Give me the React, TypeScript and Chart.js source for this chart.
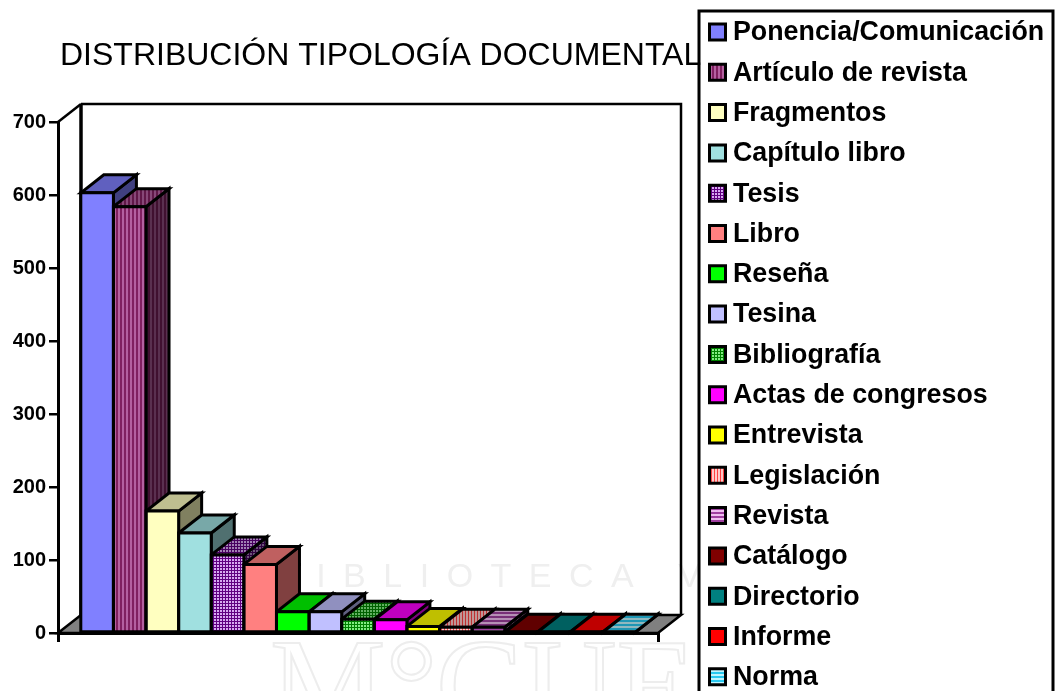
import React, { useEffect, useRef } from "react";
import { Chart, registerables } from "chart.js";

Chart.register(...registerables);

const categories = [
  "Ponencia/Comunicación", "Artículo de revista", "Fragmentos", "Capítulo libro", "Tesis", "Libro",
  "Reseña", "Tesina", "Bibliografía", "Actas de congresos", "Entrevista", "Legislación", "Revista",
  "Catálogo", "Directorio", "Informe", "Norma",
];
const values = [603, 584, 167, 137, 107, 94, 29, 29, 19, 18, 9, 8, 8, 1, 1, 1, 1];
const yTicks = [0, 100, 200, 300, 400, 500, 600, 700];
const titleText = "DISTRIBUCIÓN TIPOLOGÍA DOCUMENTAL";

type Fill = { kind: "solid" | "v" | "h" | "check"; a: number[]; b?: number[]; period?: number };
const fills: Fill[] = [
  { kind: "solid", a: [128, 128, 255] },
  { kind: "v", a: [128, 32, 96], b: [180, 96, 160], period: 4 },
  { kind: "solid", a: [255, 255, 192] },
  { kind: "solid", a: [160, 224, 224] },
  { kind: "check", a: [96, 0, 128], b: [215, 170, 240], period: 3 },
  { kind: "solid", a: [255, 128, 128] },
  { kind: "solid", a: [0, 255, 0] },
  { kind: "solid", a: [192, 192, 255] },
  { kind: "check", a: [0, 128, 0], b: [130, 235, 130], period: 3 },
  { kind: "solid", a: [255, 0, 255] },
  { kind: "solid", a: [255, 255, 0] },
  { kind: "v", a: [255, 64, 64], b: [255, 200, 200], period: 3 },
  { kind: "h", a: [160, 64, 160], b: [240, 190, 240], period: 4 },
  { kind: "solid", a: [128, 0, 0] },
  { kind: "solid", a: [0, 128, 128] },
  { kind: "solid", a: [255, 0, 0] },
  { kind: "h", a: [40, 200, 240], b: [190, 245, 255], period: 4 },
];

const DX = 23;
const DY = 18;
const LINE = 3;
const FONT = '"Liberation Sans", Arial, sans-serif';

function makeFill(ctx: CanvasRenderingContext2D, f: Fill, k: number): string | CanvasPattern {
  const rgb = (c: number[]) => `rgb(${Math.round(c[0] * k)},${Math.round(c[1] * k)},${Math.round(c[2] * k)})`;
  if (f.kind === "solid") return rgb(f.a);
  const p = f.period as number;
  const off = document.createElement("canvas");
  off.width = p;
  off.height = p;
  const c = off.getContext("2d") as CanvasRenderingContext2D;
  c.fillStyle = rgb(f.b as number[]);
  c.fillRect(0, 0, p, p);
  c.fillStyle = rgb(f.a);
  if (f.kind === "v" || f.kind === "check") c.fillRect(0, 0, p === 4 ? 2 : 1, p);
  if (f.kind === "h" || f.kind === "check") c.fillRect(0, 0, p, p === 4 ? 2 : 1);
  return ctx.createPattern(off, "repeat") as CanvasPattern;
}

function poly(ctx: CanvasRenderingContext2D, pts: number[][], fill: any, lw = LINE) {
  ctx.beginPath();
  pts.forEach((p, i) => (i ? ctx.lineTo(p[0], p[1]) : ctx.moveTo(p[0], p[1])));
  ctx.closePath();
  if (fill) {
    ctx.fillStyle = fill;
    ctx.fill();
  }
  ctx.lineWidth = lw;
  ctx.strokeStyle = "#000";
  ctx.lineJoin = "miter";
  ctx.stroke();
}

const sceneryPlugin = {
  id: "scenery",
  beforeDraw(chart: any) {
    const ctx = chart.ctx as CanvasRenderingContext2D;
    ctx.save();
    ctx.fillStyle = "#fff";
    ctx.fillRect(0, 0, chart.width, chart.height);
    // faint watermark behind the chart
    ctx.fillStyle = "#efefef";
    ctx.font = `34px ${FONT}`;
    ctx.textBaseline = "alphabetic";
    (ctx as any).letterSpacing = "17.5px";
    ctx.fillText("BIBLIOTECA VIRTUAL", 276, 587);
    (ctx as any).letterSpacing = "0px";
    ctx.strokeStyle = "#ededed";
    ctx.lineWidth = 2;
    ctx.font = `130px "Liberation Serif", serif`;
    ctx.strokeText("M°", 270, 728);
    ctx.strokeText("CUE", 436, 728);
    ctx.strokeText("D", 815, 728);
    ctx.restore();
  },
  beforeDatasetsDraw(chart: any) {
    const ctx = chart.ctx as CanvasRenderingContext2D;
    const { left, right, top, bottom } = chart.chartArea;
    ctx.save();
    // floor
    poly(ctx, [[left, bottom], [left + DX, bottom - DY], [right + DX, bottom - DY], [right, bottom]], "#808080", 2.5);
    // side wall diagonal and back wall
    ctx.strokeStyle = "#000";
    ctx.lineWidth = 2.5;
    ctx.beginPath();
    ctx.moveTo(left, top);
    ctx.lineTo(left + DX, top - DY);
    ctx.stroke();
    ctx.beginPath();
    ctx.moveTo(left + DX, top - DY);
    ctx.lineTo(right + DX, top - DY);
    ctx.lineTo(right + DX, bottom - DY);
    ctx.stroke();
    ctx.lineWidth = 3.5;
    ctx.beginPath();
    ctx.moveTo(left + DX, top - DY);
    ctx.lineTo(left + DX, bottom - DY);
    ctx.stroke();
    // top and side faces of the bars, left to right, under all the front faces
    chart.data.datasets.forEach((ds: any, i: number) => {
      const bar = chart.getDatasetMeta(i).data[0];
      const l = bar.x - bar.width / 2;
      const r = bar.x + bar.width / 2;
      poly(ctx, [[r, bar.y], [r + DX, bar.y - DY], [r + DX, bar.base - DY], [r, bar.base]], ds.sideFill);
      poly(ctx, [[l, bar.y], [l + DX, bar.y - DY], [r + DX, bar.y - DY], [r, bar.y]], ds.topFill);
    });
    ctx.restore();
  },
  afterDatasetsDraw(chart: any) {
    const ctx = chart.ctx as CanvasRenderingContext2D;
    ctx.save();
    chart.data.datasets.forEach((_: any, i: number) => {
      const bar = chart.getDatasetMeta(i).data[0];
      const l = bar.x - bar.width / 2;
      const r = bar.x + bar.width / 2;
      poly(ctx, [[l, bar.y], [r, bar.y], [r, bar.base], [l, bar.base]], null);
    });
    ctx.restore();
  },
  afterDraw(chart: any) {
    const ctx = chart.ctx as CanvasRenderingContext2D;
    ctx.save();
    // legend box
    ctx.fillStyle = "#fff";
    ctx.fillRect(699, 11, 354, 700);
    ctx.strokeStyle = "#000";
    ctx.lineWidth = 3;
    ctx.strokeRect(699, 11, 354, 700);
    ctx.textBaseline = "middle";
    ctx.textAlign = "left";
    chart.data.datasets.forEach((ds: any, i: number) => {
      const cy = 32 + i * 40.3;
      poly(ctx, [[709.5, cy - 8], [725.5, cy - 8], [725.5, cy + 8], [709.5, cy + 8]], ds.backgroundColor, 3);
      ctx.fillStyle = "#000";
      ctx.font = `bold 26.8px ${FONT}`;
      ctx.fillText(ds.label, 733, cy + 1);
    });
    // title sits over the legend edge
    ctx.fillStyle = "#000";
    ctx.font = `32px ${FONT}`;
    ctx.fillText(titleText, 60, 56);
    ctx.restore();
  },
};

export default function App() {
  const ref = useRef<HTMLCanvasElement>(null);
  useEffect(() => {
    const canvas = ref.current as HTMLCanvasElement;
    const ctx = canvas.getContext("2d") as CanvasRenderingContext2D;
    const chart = new Chart(canvas, {
      type: "bar",
      data: {
        labels: [""],
        datasets: categories.map((label, i) => ({
          label,
          data: [values[i]],
          backgroundColor: makeFill(ctx, fills[i], 1),
          topFill: makeFill(ctx, fills[i], 0.75),
          sideFill: makeFill(ctx, fills[i], 0.5),
          borderWidth: 0,
          barPercentage: 1,
          categoryPercentage: 0.924,
        })) as any,
      },
      options: {
        animation: false,
        responsive: false,
        layout: { padding: { left: 0, right: 403, top: 122, bottom: 58 } },
        plugins: { legend: { display: false }, title: { display: false }, tooltip: { enabled: false } },
        scales: {
          x: {
            ticks: { display: false },
            grid: { drawOnChartArea: false, drawTicks: true, tickLength: 9, color: "#000", lineWidth: 3 },
            border: { color: "#000", width: 3 },
            afterFit: (s: any) => { s.height = 0; },
          },
          y: {
            min: 0,
            max: 700,
            afterBuildTicks: (s: any) => { s.ticks = yTicks.map((value) => ({ value })); },
            ticks: {
              color: "#000",
              padding: 3,
              font: { family: FONT, weight: "bold", size: 20 },
            },
            grid: { drawOnChartArea: false, tickLength: 9, color: "#000", lineWidth: 2.5 },
            border: { color: "#000", width: 3 },
            afterFit: (s: any) => { s.width = 58; },
          },
        },
      } as any,
      plugins: [sceneryPlugin as any],
    });
    return () => chart.destroy();
  }, []);
  return (
    <canvas
      ref={ref}
      width={1061}
      height={691}
      style={{ position: "fixed", left: 0, top: 0, width: 1061, height: 691, display: "block" }}
    />
  );
}
